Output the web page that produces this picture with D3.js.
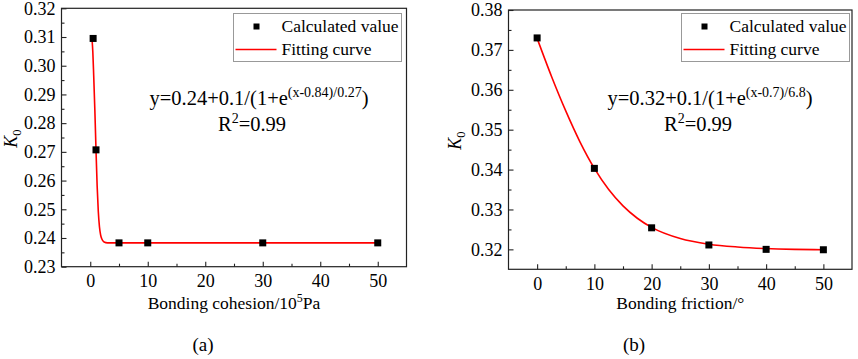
<!DOCTYPE html>
<html>
<head>
<meta charset="utf-8">
<script src="https://cdn.jsdelivr.net/npm/d3@7"></script>
<style>
  body { margin: 0; background: #fff; }
  text { font-family: "Liberation Serif", "Times New Roman", serif; fill: #000; }
</style>
</head>
<body>
<svg id="chart" width="858" height="359"></svg>
<script>
// panel (a): bonding cohesion
const cohesionX = [0.5, 1, 5, 10, 30, 50];
const cohesionK = [0.3095, 0.2707, 0.2383, 0.2383, 0.2383, 0.2383];
const cohesionFitX = [0.3, 0.45, 0.6, 0.8, 1.0, 1.2, 1.4, 1.6, 1.8, 2.0, 2.4, 3, 4, 10, 30, 50];
const cohesionFitK = [0.3095, 0.3047, 0.2966, 0.2846, 0.2707, 0.2581, 0.2492, 0.2439, 0.2411, 0.2397, 0.2386, 0.2383, 0.2383, 0.2383, 0.2383, 0.2383];

// panel (b): bonding friction
const frictionX = [0, 10, 20, 30, 40, 50];
const frictionK = [0.3730, 0.3403, 0.3254, 0.3211, 0.3200, 0.3199];
const frictionFitX = [0, 2.5, 5, 7.5, 10, 12.5, 15, 17.5, 20, 25, 30, 35, 40, 45, 50];
const frictionFitK = [0.3729, 0.3634, 0.3547, 0.3469, 0.3403, 0.3350, 0.3309, 0.3278, 0.3255, 0.3227, 0.3213, 0.3206, 0.3202, 0.3200, 0.3199];

const xTicks = [0, 10, 20, 30, 40, 50];
const xMinor = [5, 15, 25, 35, 45];
const cohesionYTicks = [0.23, 0.24, 0.25, 0.26, 0.27, 0.28, 0.29, 0.30, 0.31, 0.32];
const frictionYTicks = [0.32, 0.33, 0.34, 0.35, 0.36, 0.37, 0.38];

const svg = d3.select("#chart");

function drawPanel(p) {
  const x = d3.scaleLinear().domain([-5, 55]).range([p.left, p.right]);
  const y = d3.scaleLinear().domain(p.yDomain).range([p.bottom, p.top]);
  const g = svg.append("g");

  // minor ticks first
  const yMinor = p.yTicks.slice(0, -1).map(v => v + 0.005).concat([p.yTicks[0] - 0.005])
    .filter(v => v > p.yDomain[0] + 1e-6 && v < p.yDomain[1] - 1e-6);

  g.append("g").attr("transform", `translate(0,${p.bottom})`)
    .call(d3.axisBottom(x).tickValues(xMinor).tickSize(-3).tickFormat(""))
    .call(a => a.select(".domain").remove());
  g.append("g").attr("transform", `translate(${p.left},0)`)
    .call(d3.axisLeft(y).tickValues(yMinor).tickSize(-3).tickFormat(""))
    .call(a => a.select(".domain").remove());

  const xa = g.append("g").attr("transform", `translate(0,${p.bottom})`)
    .call(d3.axisBottom(x).tickValues(xTicks).tickSize(-5).tickPadding(8).tickFormat(d3.format("d")));
  xa.select(".domain").remove();
  xa.selectAll("text").attr("font-size", 18).attr("dy", "0.71em");

  const ya = g.append("g").attr("transform", `translate(${p.left},0)`)
    .call(d3.axisLeft(y).tickValues(p.yTicks).tickSize(-5).tickPadding(6).tickFormat(d3.format(".2f")));
  ya.select(".domain").remove();
  ya.selectAll("text").attr("font-size", 18);
  g.selectAll(".tick line").attr("stroke", "#222").attr("stroke-width", 1.1);
  g.selectAll(".tick text").style("font-family", "Liberation Serif").attr("fill", "#000");

  // frame
  g.append("rect")
    .attr("x", p.left).attr("y", p.top)
    .attr("width", p.right - p.left).attr("height", p.bottom - p.top)
    .attr("fill", "none").attr("stroke", "#222").attr("stroke-width", 1.2);

  // fitting curve
  const line = d3.line().x(d => x(d[0])).y(d => y(d[1])).curve(d3.curveMonotoneX);
  g.append("path")
    .datum(p.fitX.map((v, i) => [v, p.fitK[i]]))
    .attr("d", line)
    .attr("fill", "none").attr("stroke", "#f00").attr("stroke-width", 1.6);

  // calculated points
  g.selectAll(".pt").data(p.xs.map((v, i) => [v, p.ks[i]]))
    .enter().append("rect")
    .attr("class", "pt")
    .attr("x", d => x(d[0]) - 3.5).attr("y", d => y(d[1]) - 3.5)
    .attr("width", 7).attr("height", 7).attr("fill", "#000");

  // legend
  const lx = p.legend[0], ly = p.legend[1];
  g.append("rect").attr("x", lx).attr("y", ly).attr("width", p.legendW).attr("height", 48)
    .attr("fill", "#fff").attr("stroke", "#999").attr("stroke-width", 1);
  g.append("rect").attr("x", lx + 20).attr("y", ly + 10).attr("width", 6).attr("height", 6).attr("fill", "#000");
  g.append("line").attr("x1", lx + 2).attr("x2", lx + 43).attr("y1", ly + 36).attr("y2", ly + 36)
    .attr("stroke", "#f00").attr("stroke-width", 1.6);
  g.append("text").attr("x", lx + 48).attr("y", ly + 18.5).attr("font-size", 17.5).text("Calculated value");
  g.append("text").attr("x", lx + 48).attr("y", ly + 41).attr("font-size", 17.5).text("Fitting curve");

  // equation
  const eq = g.append("text").attr("x", p.eqX).attr("y", 105).attr("text-anchor", "middle").attr("font-size", 20.5);
  eq.append("tspan").text(p.eqMain);
  eq.append("tspan").attr("dy", -8).attr("font-size", 14).text(p.eqSup);
  eq.append("tspan").attr("dy", 8).text(")");
  const r2 = g.append("text").attr("x", p.r2X).attr("y", 131).attr("text-anchor", "middle").attr("font-size", 20.5);
  r2.append("tspan").text("R");
  r2.append("tspan").attr("dy", -8).attr("font-size", 14).text("2");
  r2.append("tspan").attr("dy", 8).text("=0.99");

  // y label
  const yl = g.append("text")
    .attr("transform", `translate(${p.yLabelX},${(p.top + p.bottom) / 2 + 1}) rotate(-90)`)
    .attr("text-anchor", "middle").attr("font-size", 18);
  yl.append("tspan").attr("font-style", "italic").text("K");
  yl.append("tspan").attr("dy", 4).attr("font-size", 12.5).text("0");

  // x label
  const xl = g.append("text").attr("x", (p.left + p.right) / 2).attr("y", 309)
    .attr("text-anchor", "middle").attr("font-size", 17.5);
  p.xLabel.forEach(s => {
    const t = xl.append("tspan").text(s.t);
    if (s.sup) t.attr("dy", -7).attr("font-size", 12);
    if (s.down) t.attr("dy", 7);
  });

  g.append("text").attr("x", p.tagX).attr("y", 351).attr("text-anchor", "middle").attr("font-size", 19).text(p.tag);
}

drawPanel({
  left: 61.5, right: 406.5, top: 8.3, bottom: 266.7,
  yDomain: [0.23, 0.32], yTicks: cohesionYTicks,
  xs: cohesionX, ks: cohesionK, fitX: cohesionFitX, fitK: cohesionFitK,
  legend: [233.5, 13.5], legendW: 168,
  eqX: 259, eqMain: "y=0.24+0.1/(1+e", eqSup: "(x-0.84)/0.27", r2X: 252,
  yLabelX: 17,
  xLabel: [{ t: "Bonding cohesion/10" }, { t: "5", sup: true }, { t: "Pa", down: true }],
  tagX: 203, tag: "(a)"
});

drawPanel({
  left: 508.5, right: 852, top: 10, bottom: 269.3,
  yDomain: [0.315, 0.38], yTicks: frictionYTicks,
  xs: frictionX, ks: frictionK, fitX: frictionFitX, fitK: frictionFitK,
  legend: [681.5, 13.5], legendW: 168,
  eqX: 710, eqMain: "y=0.32+0.1/(1+e", eqSup: "(x-0.7)/6.8", r2X: 698,
  yLabelX: 461,
  xLabel: [{ t: "Bonding friction/°" }],
  tagX: 634, tag: "(b)"
});
</script>
</body>
</html>
